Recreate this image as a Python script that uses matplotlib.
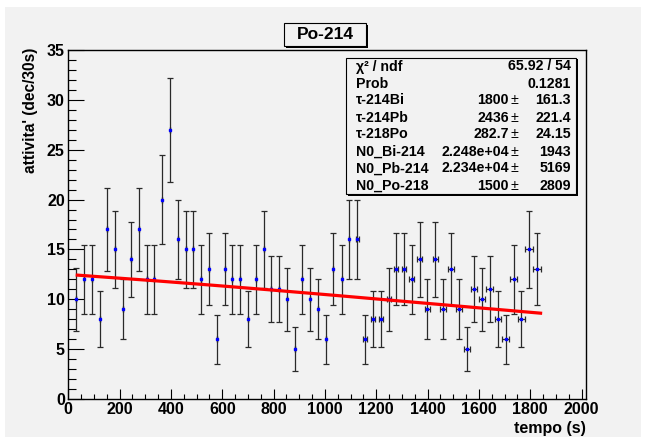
import numpy as np
import matplotlib
matplotlib.use("Agg")
import matplotlib.pyplot as plt
from matplotlib.patches import Rectangle
from matplotlib.ticker import MultipleLocator

# ---- data ----
times = [29, 61, 91, 123, 152, 181, 214, 243, 275, 305, 334, 366, 396, 427, 457,
         487, 518, 548, 579, 609, 638, 670, 699, 731, 761, 791, 822, 852, 883, 912,
         941, 973, 1004, 1033, 1065, 1094, 1126, 1156, 1186, 1217, 1248, 1277, 1308,
         1338, 1369, 1399, 1430, 1460, 1490, 1522, 1552, 1582, 1612, 1642, 1674,
         1704, 1735, 1765, 1795, 1826]
counts = [10, 12, 12, 8, 17, 15, 9, 14, 17, 12, 12, 20, 27, 16, 15,
          15, 12, 13, 6, 13, 12, 12, 8, 12, 15, 11, 11, 10, 5, 12,
          10, 9, 6, 13, 12, 16, 16, 6, 8, 8, 10, 13, 13,
          12, 14, 9, 14, 9, 13, 9, 5, 11, 10, 11, 8,
          6, 12, 8, 15, 13]
time_err = [0, 0, 0, 0, 0, 0, 0, 0, 0, 0, 0, 0, 0, 0, 0,
            0, 0, 0, 0, 0, 0, 0, 0, 0, 0, 0, 0, 0, 0, 0,
            0, 0, 0, 0, 0, 0, 6, 7, 7, 8, 8, 9, 9,
            9, 10, 10, 10, 11, 11, 11, 12, 12, 12, 13, 13,
            13, 14, 14, 15, 15]
count_err = [np.sqrt(c) for c in counts]

# fit parameters (from the stats box)
stat_names = ["\u03c7\u00b2 / ndf", "Prob", "\u03c4-214Bi", "\u03c4-214Pb", "\u03c4-218Po",
              "N0_Bi-214", "N0_Pb-214", "N0_Po-218"]
stat_vals = ["65.92 / 54", "0.1281", "1800", "2436", "282.7", "2.248e+04", "2.234e+04", "1500"]
stat_errs = [None, None, "161.3", "221.4", "24.15", "1943", "5169", "2809"]
tau_bi, tau_pb, tau_po = 1800.0, 2436.0, 282.7
n0_bi, n0_pb, n0_po = 2.248e4, 2.234e4, 1500.0
fit_range = (35, 1840)

title = "Po-214"
xlabel = "tempo (s)"
ylabel = "attivita' (dec/30s)"

# ---- figure ----
W, H = 647, 441
fig = plt.figure(figsize=(W / 100, H / 100), dpi=100)
fig.patch.set_facecolor("white")
BG = "#f2f2f2"

def fx(x):
    return x / W

def fy(y):
    return 1 - y / H

fig.patches.append(Rectangle((fx(5), fy(437)), fx(641) - fx(5), fy(7) - fy(437),
                             transform=fig.transFigure, facecolor=BG, edgecolor="none",
                             zorder=-10))

FONT = "Liberation Sans"
ax = fig.add_axes([fx(68.3), fy(399), fx(586) - fx(68.3), fy(50) - fy(399)])
ax.set_zorder(1)
ax.set_facecolor(BG)
ax.set_xlim(0, 2017)
ax.set_ylim(0, 35)
for s in ax.spines.values():
    s.set_color("black")
    s.set_linewidth(1.0)

ax.xaxis.set_major_locator(MultipleLocator(200))
ax.xaxis.set_minor_locator(MultipleLocator(50))
ax.yaxis.set_major_locator(MultipleLocator(5))
ax.yaxis.set_minor_locator(MultipleLocator(1))
ax.tick_params(axis="x", which="major", direction="in", length=7.2, width=0.8, pad=2,
               top=False, labelsize=11.5)
ax.tick_params(axis="x", which="minor", direction="in", length=3.6, width=0.8, top=False)
ax.tick_params(axis="y", which="major", direction="in", length=11.2, width=0.8, pad=2.5,
               right=False, labelsize=11.5)
ax.tick_params(axis="y", which="minor", direction="in", length=5.6, width=0.8, right=False)
for lab in ax.get_xticklabels() + ax.get_yticklabels():
    lab.set_fontfamily(FONT)
    lab.set_fontweight("bold")

# data points
ax.errorbar(times, counts, yerr=count_err, xerr=time_err, fmt="s", ms=2.0,
            mfc="blue", mec="blue", ecolor="#2a2a2a", elinewidth=0.9,
            capsize=2.2, capthick=0.9, zorder=3)

# fit curve (Bateman chain Po-218 -> Pb-214 -> Bi-214)
t = np.linspace(fit_range[0], fit_range[1], 400)
la, lb, lc = 1 / tau_po, 1 / tau_pb, 1 / tau_bi
nbi = (n0_bi * np.exp(-lc * t)
       + n0_pb * lb * (np.exp(-lb * t) - np.exp(-lc * t)) / (lc - lb)
       + n0_po * la * lb * (np.exp(-la * t) / ((lb - la) * (lc - la))
                            + np.exp(-lb * t) / ((la - lb) * (lc - lb))
                            + np.exp(-lc * t) / ((la - lc) * (lb - lc))))
ax.plot(t, nbi / tau_bi, color="red", lw=2.3, zorder=4)

# axis titles
fig.text(fx(586), fy(428), xlabel, ha="right", va="center", fontsize=11.5,
         fontweight="bold", family=FONT)
fig.text(fx(31), fy(48), ylabel, ha="center", va="top", rotation=90, fontsize=11.2,
         fontweight="bold", family=FONT)

# boxes
def box(x0, y0, x1, y1, shadow=2):
    fig.patches.append(Rectangle((fx(x0 + shadow), fy(y1 + shadow)), fx(x1) - fx(x0),
                                 fy(y0) - fy(y1), transform=fig.transFigure,
                                 facecolor="black", edgecolor="none", zorder=5))
    fig.patches.append(Rectangle((fx(x0), fy(y1)), fx(x1) - fx(x0), fy(y0) - fy(y1),
                                 transform=fig.transFigure, facecolor=BG,
                                 edgecolor="black", lw=0.8, zorder=6))

box(284, 23, 366, 46)
fig.text(fx(325), fy(34.5), title, ha="center", va="center", fontsize=12.5,
         fontweight="bold", family=FONT, zorder=7)

# stats box
box(346, 58, 576, 194, shadow=1.5)
row_h = 17.0
FS = 10.2
for i, (n, v, e) in enumerate(zip(stat_names, stat_vals, stat_errs)):
    yc = 66.5 + i * row_h
    fig.text(fx(356), fy(yc), n, ha="left", va="center", fontsize=FS,
             fontweight="bold", family=[FONT, "DejaVu Sans"], zorder=7)
    if e is None:
        fig.text(fx(571), fy(yc), v, ha="right", va="center", fontsize=FS,
                 fontweight="bold", family=FONT, zorder=7)
    else:
        fig.text(fx(509), fy(yc), v, ha="right", va="center", fontsize=FS,
                 fontweight="bold", family=FONT, zorder=7)
        fig.text(fx(514), fy(yc), "\u00b1", ha="center", va="center", fontsize=FS,
                 family=FONT, zorder=7)
        fig.text(fx(571), fy(yc), e, ha="right", va="center", fontsize=FS,
                 fontweight="bold", family=FONT, zorder=7)

fig.savefig("out.png", dpi=100, facecolor="white")
